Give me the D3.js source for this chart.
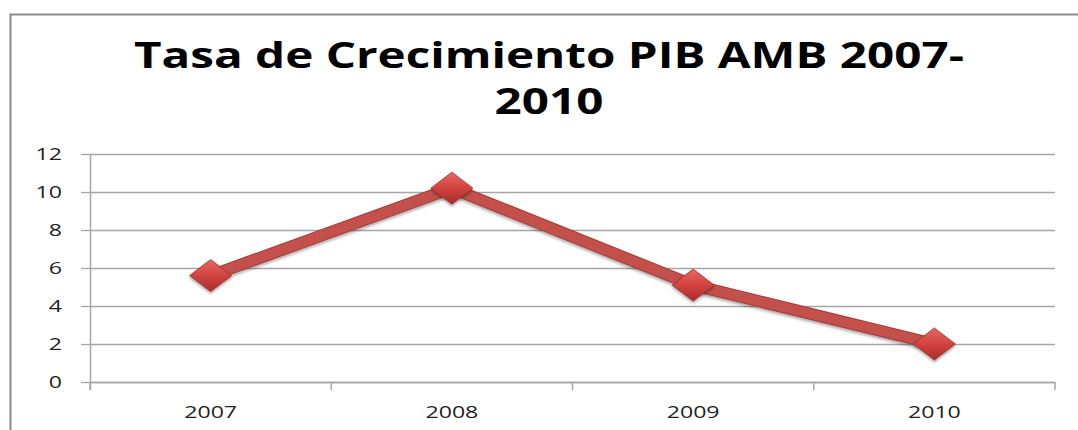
<!DOCTYPE html>
<html>
<head>
<meta charset="utf-8">
<script src="https://cdn.jsdelivr.net/npm/d3@7"></script>
<style>
  body { margin: 0; background: #fff; }
  svg { display: block; }
</style>
</head>
<body>
<div id="chart"></div>
<script>
// data
var years = ["2007", "2008", "2009", "2010"];
var growth = [5.6, 10.2, 5.1, 2.0];
var yTicks = [0, 2, 4, 6, 8, 10, 12];
var titleLines = ["Tasa de Crecimiento PIB AMB 2007-", "2010"];

var width = 1078, height = 430;
var stretch = 1.36; // the source image is stretched horizontally

var svg = d3.select("#chart").append("svg")
    .attr("width", width)
    .attr("height", height);

// chart frame (runs off the right and bottom edge)
svg.append("rect")
    .attr("x", 10.5).attr("y", 14.5)
    .attr("width", 1100).attr("height", 500)
    .attr("fill", "#fff")
    .attr("stroke", "#8a8a8a")
    .attr("stroke-width", 2);

var defs = svg.append("defs");
var grad = defs.append("linearGradient")
    .attr("id", "diamondFill")
    .attr("x1", "0").attr("y1", "0").attr("x2", "0").attr("y2", "1");
grad.append("stop").attr("offset", "0%").attr("stop-color", "#e86763");
grad.append("stop").attr("offset", "50%").attr("stop-color", "#d2433f");
grad.append("stop").attr("offset", "100%").attr("stop-color", "#a82b28");

var filter = defs.append("filter").attr("id", "shadow")
    .attr("x", "-30%").attr("y", "-30%").attr("width", "160%").attr("height", "170%");
filter.append("feDropShadow")
    .attr("dx", 0).attr("dy", 2).attr("stdDeviation", 1.5)
    .attr("flood-color", "#000").attr("flood-opacity", 0.35);

// title
svg.append("g").selectAll("text")
    .data(titleLines)
    .enter().append("text")
    .attr("transform", function(d, i) {
        return "translate(549," + (68 + i * 46) + ") scale(" + stretch + ",1)";
    })
    .attr("text-anchor", "middle")
    .attr("font-family", "'Open Sans', sans-serif")
    .attr("font-weight", "bold")
    .attr("font-size", 35)
    .attr("fill", "#000")
    .text(function(d) { return d; });

var plotLeft = 90, plotRight = 1055, plotTop = 154, plotBottom = 382;

var x = d3.scaleBand().domain(years).range([plotLeft, plotRight]);
var y = d3.scaleLinear().domain([0, 12]).range([plotBottom, plotTop]);

// horizontal gridlines
svg.append("g")
    .attr("transform", "translate(" + plotLeft + ",0)")
    .call(d3.axisLeft(y).tickValues(yTicks).tickSize(-(plotRight - plotLeft)).tickFormat(""))
    .call(function(g) {
        g.select(".domain").remove();
        g.selectAll("line").attr("stroke", "#a6a6a6").attr("stroke-width", 1.3);
    });

// y axis
svg.append("g")
    .attr("transform", "translate(" + plotLeft + ",0)")
    .call(d3.axisLeft(y).tickValues(yTicks).tickSize(9).tickPadding(28))
    .call(function(g) {
        g.select(".domain").attr("stroke", "#a6a6a6").attr("stroke-width", 1.5)
            .attr("d", "M0.5," + plotTop + "V" + (plotBottom + 8));
        g.selectAll("line").attr("stroke", "#a6a6a6").attr("stroke-width", 1.3);
        g.selectAll("text")
            .attr("x", 0)
            .attr("transform", "translate(-28,0) scale(" + stretch + ",1)")
            .attr("font-family", "'Open Sans', sans-serif")
            .attr("font-size", 17)
            .attr("fill", "#222");
    });

// x axis: ticks at category boundaries
var bounds = years.map(function(d) { return x(d); }).concat([plotRight]);
var xa = svg.append("g");
xa.append("line")
    .attr("x1", plotLeft).attr("x2", plotRight)
    .attr("y1", plotBottom + 0.5).attr("y2", plotBottom + 0.5)
    .attr("stroke", "#a6a6a6").attr("stroke-width", 1.5);
xa.selectAll("line.tick")
    .data(bounds)
    .enter().append("line")
    .attr("class", "tick")
    .attr("x1", function(d) { return d; }).attr("x2", function(d) { return d; })
    .attr("y1", plotBottom).attr("y2", plotBottom + 8)
    .attr("stroke", "#a6a6a6").attr("stroke-width", 1.5);
xa.selectAll("text")
    .data(years)
    .enter().append("text")
    .attr("transform", function(d) {
        return "translate(" + (x(d) + x.bandwidth() / 2) + ",418) scale(" + stretch + ",1)";
    })
    .attr("text-anchor", "middle")
    .attr("font-family", "'Open Sans', sans-serif")
    .attr("font-size", 17)
    .attr("fill", "#222")
    .text(function(d) { return d; });

// series line
var pts = years.map(function(d, i) { return [x(d) + x.bandwidth() / 2, y(growth[i])]; });
var line = d3.line();
svg.append("path")
    .attr("d", line(pts))
    .attr("fill", "none")
    .attr("stroke", "#a33b38")
    .attr("stroke-width", 12)
    .attr("stroke-linejoin", "round")
    .attr("filter", "url(#shadow)");
svg.append("path")
    .attr("d", line(pts))
    .attr("fill", "none")
    .attr("stroke", "#c4504c")
    .attr("stroke-width", 10)
    .attr("stroke-linejoin", "round");

// diamond markers
svg.append("g").selectAll("path")
    .data(pts)
    .enter().append("path")
    .attr("transform", function(d) { return "translate(" + d[0] + "," + d[1] + ")"; })
    .attr("d", "M0,-16L21,0L0,16L-21,0Z")
    .attr("fill", "url(#diamondFill)")
    .attr("stroke", "#9c2d2a")
    .attr("stroke-width", 0.8)
    .attr("filter", "url(#shadow)");
</script>
</body>
</html>
